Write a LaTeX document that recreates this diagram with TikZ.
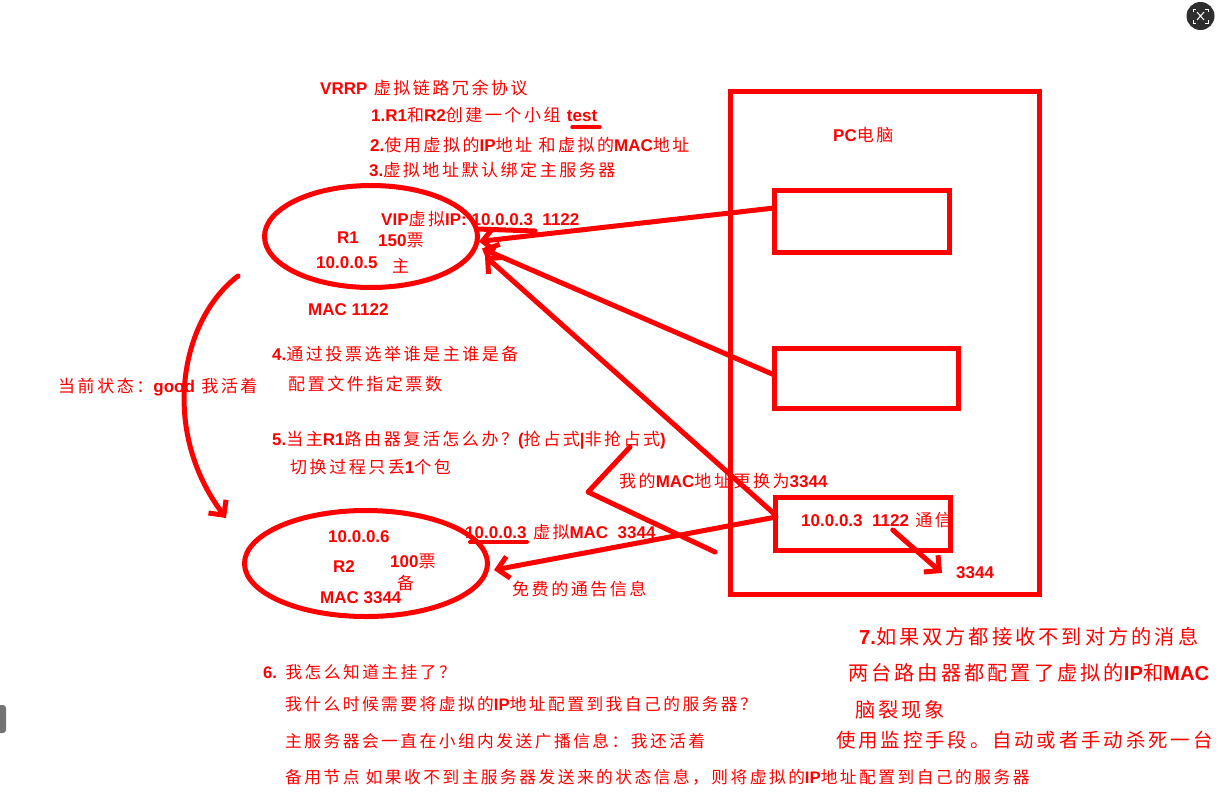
\documentclass[tikz,border=0pt]{standalone}
\usepackage{fontspec}
\newfontfamily\cjk[LetterSpace=15]{Noto Sans CJK SC}
\newfontfamily\lat{Liberation Sans}
\newcommand\E[1]{{\lat\bfseries #1}}
\usetikzlibrary{shapes.geometric,arrows.meta}
\definecolor{pen}{RGB}{255,0,0}
\begin{document}
\begin{tikzpicture}[x=1pt,y=-1pt,
  pen/.style={draw=pen, line width=5pt, line cap=round, line join=round},
  boxpen/.style={draw=pen, line width=5pt, rectangle, inner sep=0pt},
  tip/.style={-{Straight Barb[length=11pt,width=22pt]}},
  t/.style={anchor=west, inner sep=0pt, text=pen, font=\cjk\fontsize{17}{20}\selectfont},
  t6/.style={t, font=\cjk\fontsize{16.7}{20}\selectfont},
  t7/.style={t, font=\cjk\fontsize{20.2}{24}\selectfont}]
\fill[white] (0,0) rectangle (1223,798);
\useasboundingbox (0,0) rectangle (1223,798);

% PC and boxes
\node[boxpen, minimum width=308.5pt, minimum height=503pt] (pcbox) at (884.75,343) {};
\node[boxpen, minimum width=175pt, minimum height=62pt] (box1) at (861.5,221.5) {};
\node[boxpen, minimum width=184pt, minimum height=60pt] (box2) at (866.5,378.5) {};
\node[boxpen, minimum width=174.5pt, minimum height=53pt] (box3) at (862.75,524) {};

% routers
\node[pen, ellipse, minimum width=213pt, minimum height=102pt, inner sep=0pt] (R1) at (371,236.5) {};
\node[pen, ellipse, minimum width=243pt, minimum height=106pt, inner sep=0pt] (R2) at (366,563.5) {};

% texts
\node[t] (vrrp) at (320,88) {\E{VRRP} 虚拟链路冗余协议};
\node[t] (s1) at (371,115) {\E{1.R1}和\E{R2}创建一个小组 \E{test}};
\node[t] (s2) at (370,145) {\E{2.}使用虚拟的\E{IP}地址 和虚拟的\E{MAC}地址};
\node[t] (s3) at (369,170) {\E{3.}虚拟地址默认绑定主服务器};
\node[t] (pc) at (833,135) {\E{PC}电脑};
\node[t] (vip) at (381,219) {\E{VIP}虚拟\E{IP: 10.0.0.3~~1122}};
\node[t] (r1n) at (337,238) {\E{R1}};
\node[t] (r1v) at (378,240) {\E{150}票};
\node[t] (r1ip) at (316,263) {\E{10.0.0.5}};
\node[t] (r1m) at (392,266) {主};
\node[t] (r1mac) at (308,310) {\E{MAC 1122}};
\node[t] (state) at (58,387) {当前状态：\E{good} 我活着};
\node[t] (s4) at (272,354) {\E{4.}通过投票选举谁是主谁是备};
\node[t] (s4b) at (288,384) {配置文件指定票数};
\node[t] (s5) at (272,440) {\E{5.}当主\E{R1}路由器复活怎么办？\E{(}抢占式\E{|}非抢占式\E{)}};
\node[t] (s5b) at (290,467) {切换过程只丢\E{1}个包};
\node[t] (chg) at (619,481) {我的\E{MAC}地址更换为\E{3344}};
\node[t] (comm) at (801,520) {\E{10.0.0.3~~1122} 通信};
\node[t] (n3344) at (956,573) {\E{3344}};
\node[t] (r2ip) at (328,537) {\E{10.0.0.6}};
\node[t] (r2n) at (333,567) {\E{R2}};
\node[t] (r2v) at (390,561) {\E{100}票};
\node[t] (r2b) at (397,583) {备};
\node[t] (r2mac) at (320,598) {\E{MAC 3344}};
\node[t] (vmac) at (465,532) {\E{10.0.0.3} 虚拟\E{MAC~~3344}};
\node[t] (free) at (512,589) {免费的通告信息};
\node[t6] (s6) at (263,672) {\E{6.} 我怎么知道主挂了？};
\node[t6] (s6a) at (285,704) {我什么时候需要将虚拟的\E{IP}地址配置到我自己的服务器？};
\node[t6] (s6b) at (285,741) {主服务器会一直在小组内发送广播信息：我还活着};
\node[t6] (s6c) at (285,777) {备用节点 如果收不到主服务器发送来的状态信息，则将虚拟的\E{IP}地址配置到自己的服务器};
\node[t7] (s7) at (859,637) {\E{7.}如果双方都接收不到对方的消息};
\node[t7] (s7a) at (848,673) {两台路由器都配置了虚拟的\E{IP}和\E{MAC}};
\node[t7] (s7b) at (855,710) {脑裂现象};
\node[t, font=\cjk\fontsize{19.4}{23}\selectfont] (s7c) at (836,740) {使用监控手段。自动或者手动杀死一台};

% underlines
\draw[pen, line width=3.5pt] (572,127) -- (600,127);
\draw[pen, line width=4pt] (470,542) -- (527,542);

% connectors to R1
\draw[pen, tip] ([xshift=2.5pt,yshift=13.5pt]box1.west) -- ([xshift=-1pt,yshift=-5pt]R1.east);
\draw[pen] ([xshift=-3pt,yshift=7.5pt]R1.east) -- ++(58,2);
\draw[pen, tip] ([xshift=2.5pt,yshift=3.5pt]box2.west) -- ([xshift=2pt,yshift=-12pt]R1.east);
\draw[pen, tip] ([xshift=2.5pt,yshift=9pt]box3.west) -- ([xshift=5pt,yshift=-19.5pt]R1.east);
% connector to R2
\draw[pen, tip] ([xshift=3pt,yshift=7pt]box3.west) -- ([xshift=4pt,yshift=-6.5pt]R2.east);
% zigzag
\draw[pen] (630,447) -- (588,492) -- (715,552);
% R1 -> R2 state curve
\draw[pen, tip] ([xshift=-24pt,yshift=-39.5pt]R1.west) .. controls (180,320) and (160,430) .. ([xshift=-16pt,yshift=45.5pt]R2.west);
% 1122 -> 3344
\draw[pen, tip] ([xshift=30pt,yshift=-6pt]box3.center) .. controls (915,550) .. ([xshift=-14pt]n3344.west);

% screen icons
\fill[black!82] (1200.5,16) circle (14pt);
\begin{scope}[draw=white, line width=1pt]
\draw (1193,12) -- (1193,9) -- (1196,9);
\draw (1205,9) -- (1208,9) -- (1208,12);
\draw (1208,20) -- (1208,23) -- (1205,23);
\draw (1196,23) -- (1193,23) -- (1193,20);
\draw (1197,12) -- (1204,20) (1204,12) -- (1197,20);
\end{scope}
\fill[black!55, rounded corners=3pt] (-6,705) rectangle (6,733);
\end{tikzpicture}
\end{document}
